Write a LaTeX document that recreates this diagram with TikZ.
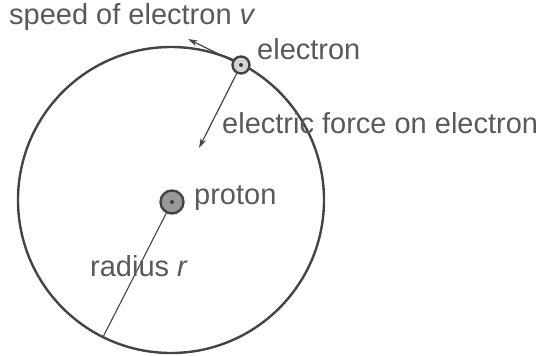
\documentclass[tikz,border=0pt]{standalone}
\usepackage{fontspec}
\setmainfont{Liberation Sans}
\usetikzlibrary{arrows.meta}
\definecolor{ink}{HTML}{444444}
\definecolor{txt}{HTML}{595959}
\tikzset{
  orbit/.style={draw=ink, line width=2.4pt},
  particle/.style={circle, draw=ink, line width=2.4pt, inner sep=0pt},
  dotc/.style={circle, fill=ink!90!black, inner sep=0pt, minimum size=4pt},
  vec/.style={draw=ink, line width=1.2pt, -{Stealth[length=10pt,width=6pt]}},
  thin line/.style={draw=ink, line width=1.1pt},
  lbl/.style={text=txt, font=\fontsize{29}{33}\selectfont, inner sep=0pt, anchor=mid west}
}
\begin{document}
\begin{tikzpicture}[x=1pt,y=-1pt]
\useasboundingbox (0,0) rectangle (544,356);
\node[circle, minimum size=306pt, inner sep=0pt, orbit] (orb) at (171,200) {};
\node[particle, fill=black!40, minimum size=23pt] (p) at (172,202) {};
\node[dotc] (pd) at (p.center) {};
\node[particle, fill=black!17, minimum size=17pt] (e) at (241,65) {};
\node[dotc] (ed) at (e.center) {};
\coordinate (vtip) at (188,39);
\coordinate (ftip) at (199,148);
\coordinate (rend) at (103,337);
\draw[vec] (e) -- (vtip);
\draw[vec] (e) -- (ftip);
\draw[thin line] (p) -- (rend);
\node[lbl] (lv) at (9,22) {speed of electron \textit{v}};
\node[lbl] (le) at (257,57) {electron};
\node[lbl] (lf) at (222,131) {electric force on electron};
\node[lbl] (lp) at (194,202) {proton};
\node[lbl] (lr) at (90,274) {radius \textit{r}};
\end{tikzpicture}
\end{document}
